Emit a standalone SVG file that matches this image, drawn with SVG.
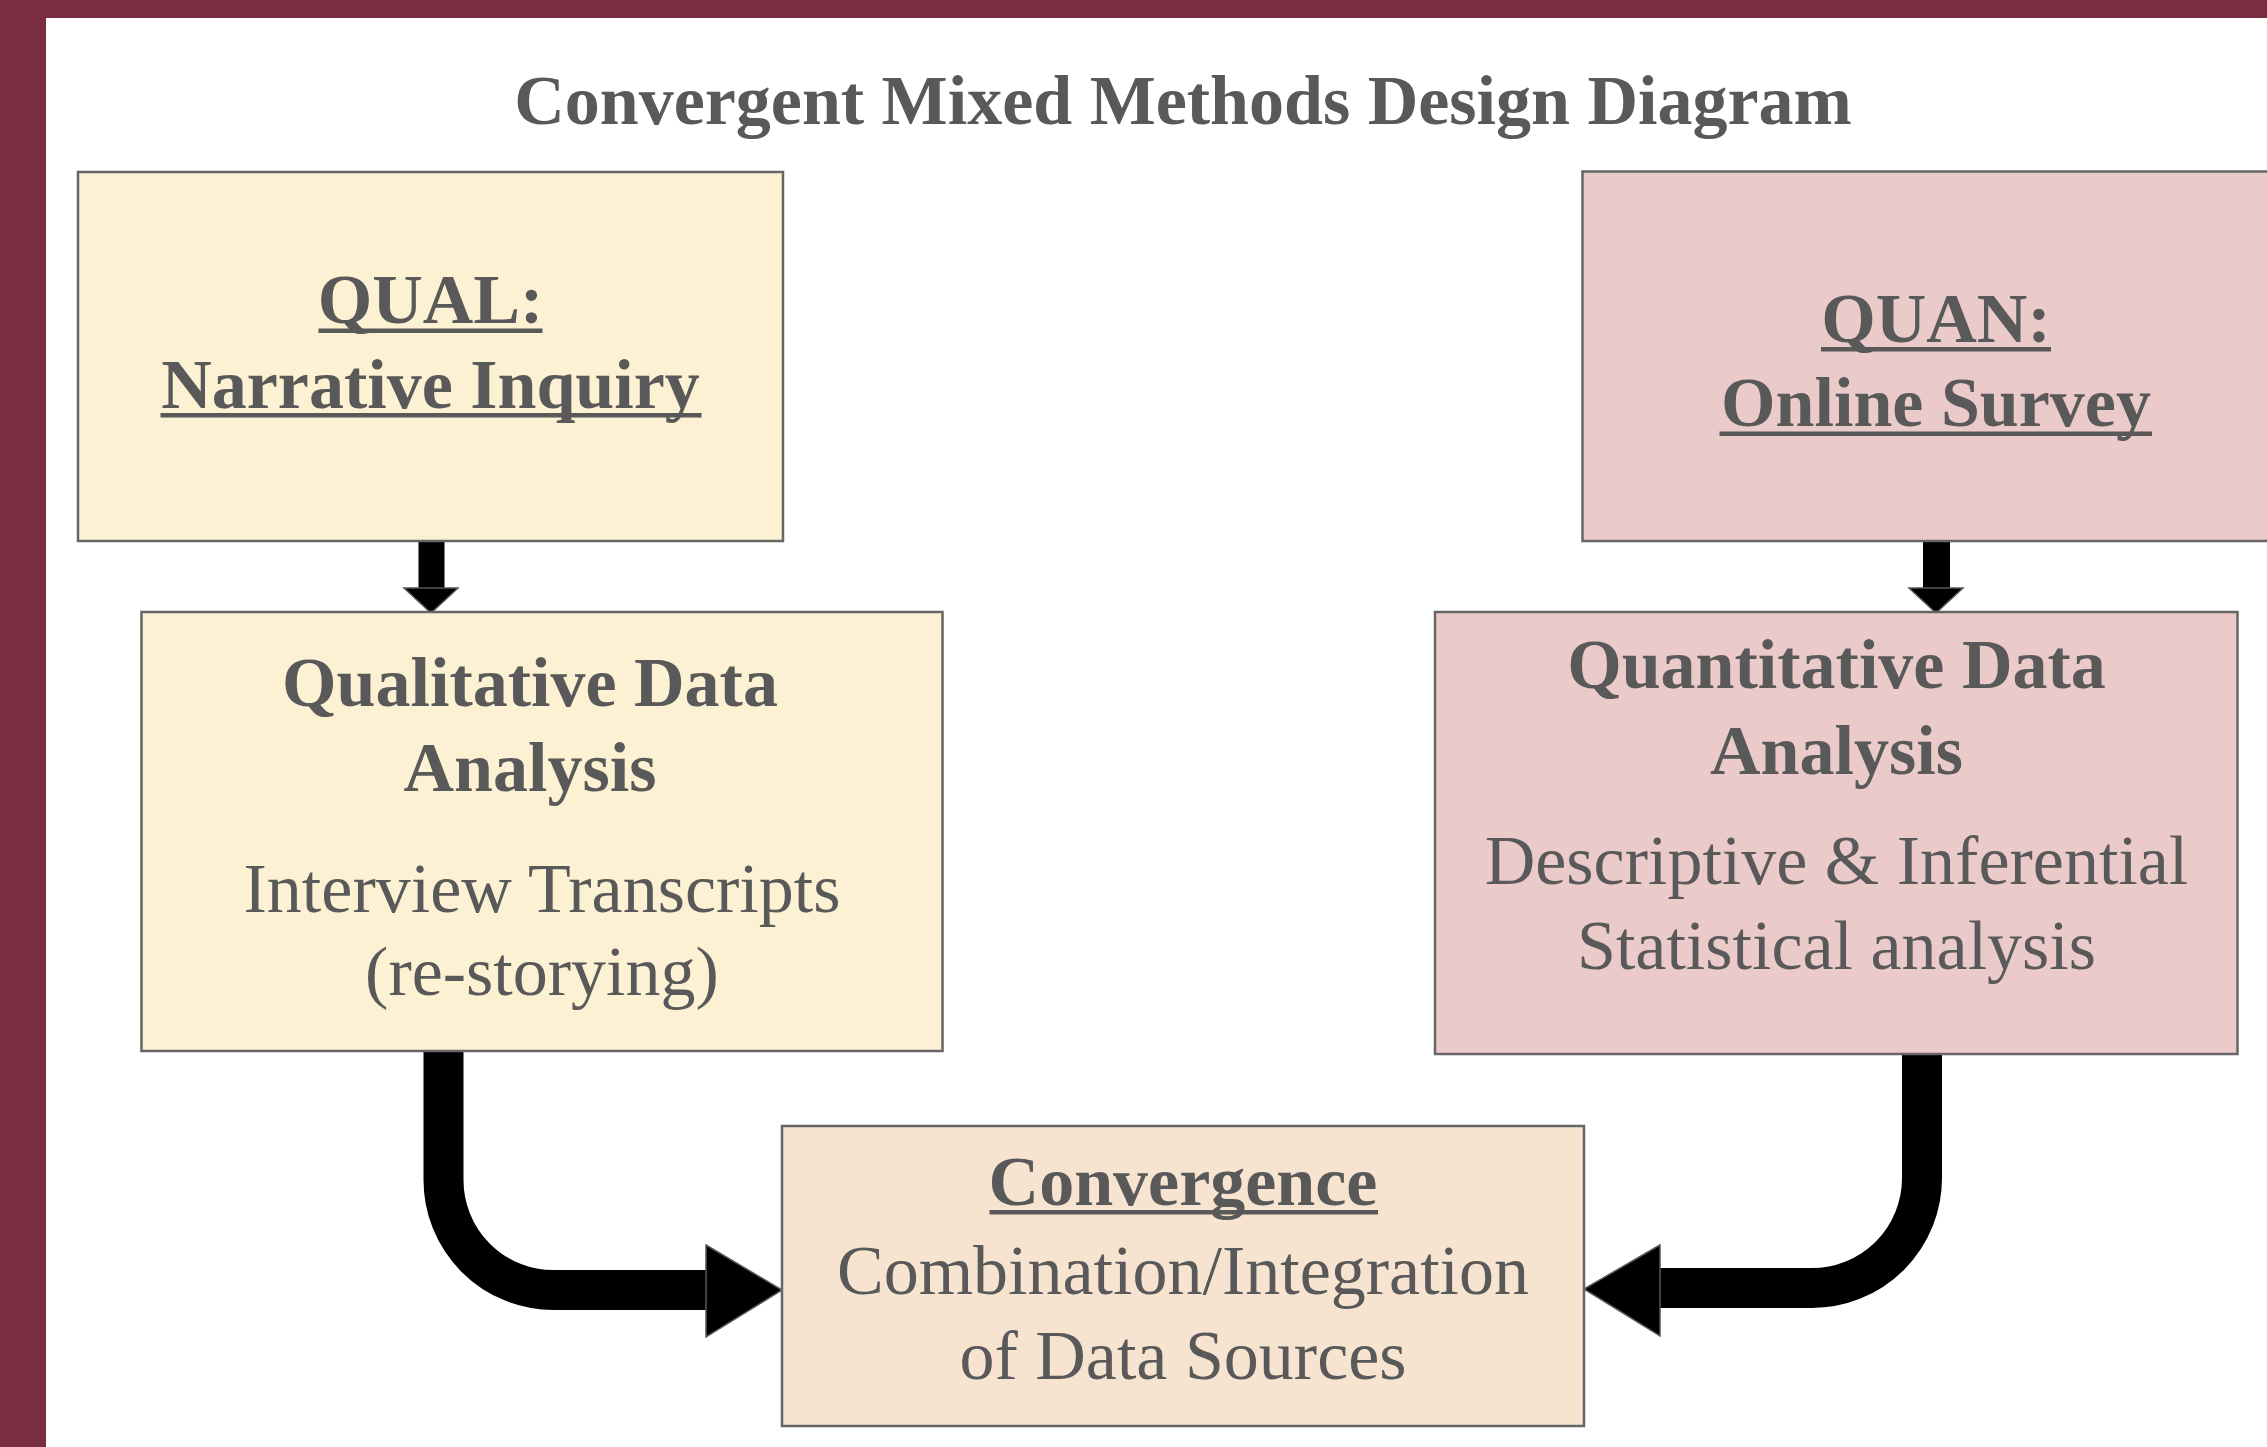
<svg xmlns="http://www.w3.org/2000/svg" width="2267" height="1447" viewBox="0 0 2267 1447">
<style>
.box{stroke:#666;stroke-width:2.5}
.qual{fill:#FDF1D3}
.quan{fill:#EBCBCA}
.conv{fill:#F6E4D0}
text{font-family:"Liberation Serif","Times New Roman",serif;font-size:70px;fill:#595959;text-anchor:middle}
.b{font-weight:bold}
.ul{fill:#595959}
.shaft{fill:none;stroke:#000;stroke-width:40}
.head{fill:#000;stroke:#555;stroke-width:1.5}
</style>
<rect x="0" y="0" width="2267" height="1447" fill="#7A2C40"/>
<rect x="46" y="18" width="2221" height="1429" fill="#FFFFFF"/>
<text id="title" class="b" x="1183" y="124">Convergent Mixed Methods Design Diagram</text>
<g id="connectors">
  <rect x="418.5" y="541" width="26" height="48" fill="#000"/>
  <polygon class="head" points="404,588 458,588 431,613"/>
  <rect x="1923" y="541" width="27" height="48" fill="#000"/>
  <polygon class="head" points="1909,588 1963,588 1936,613"/>
  <path class="shaft" d="M443.5 1051 L443.5 1180 A110 110 0 0 0 553.5 1290 L708 1290"/>
  <polygon class="head" points="706,1245 782,1290 706,1337"/>
  <path class="shaft" d="M1922 1053 L1922 1178 A110 110 0 0 1 1812 1288 L1658 1288"/>
  <polygon class="head" points="1660,1245 1584,1289 1660,1336"/>
</g>
<g id="qual">
  <rect class="box qual" x="78" y="172" width="705" height="369"/>
  <text class="b" x="430.5" y="323">QUAL:</text>
  <rect class="ul" x="318.5" y="328.5" width="224" height="4.5"/>
  <text class="b" x="430.5" y="408">Narrative Inquiry</text>
  <rect class="ul" x="160.5" y="413" width="541" height="4.5"/>
</g>
<g id="quan">
  <rect class="box quan" x="1582.5" y="171.5" width="720" height="369.5"/>
  <text class="b" x="1936" y="342">QUAN:</text>
  <rect class="ul" x="1821" y="347" width="230" height="4.5"/>
  <text class="b" x="1936" y="426">Online Survey</text>
  <rect class="ul" x="1719.5" y="431.5" width="432.5" height="4.5"/>
</g>
<g id="qual-analysis">
  <rect class="box qual" x="141.5" y="612" width="801" height="439"/>
  <text class="b" x="530" y="706">Qualitative Data</text>
  <text class="b" x="530" y="791">Analysis</text>
  <text x="542" y="912">Interview Transcripts</text>
  <text x="542" y="995">(re-storying)</text>
</g>
<g id="quan-analysis">
  <rect class="box quan" x="1435" y="612" width="802.5" height="442"/>
  <text class="b" x="1836.5" y="688">Quantitative Data</text>
  <text class="b" x="1836.5" y="774">Analysis</text>
  <text x="1836.5" y="884">Descriptive &amp; Inferential</text>
  <text x="1836.5" y="969">Statistical analysis</text>
</g>
<g id="convergence">
  <rect class="box conv" x="782" y="1126" width="802" height="300"/>
  <text class="b" x="1183" y="1205">Convergence</text>
  <rect class="ul" x="989.5" y="1210" width="388.5" height="4.5"/>
  <text x="1183" y="1294">Combination/Integration</text>
  <text x="1183" y="1379">of Data Sources</text>
</g>
</svg>
